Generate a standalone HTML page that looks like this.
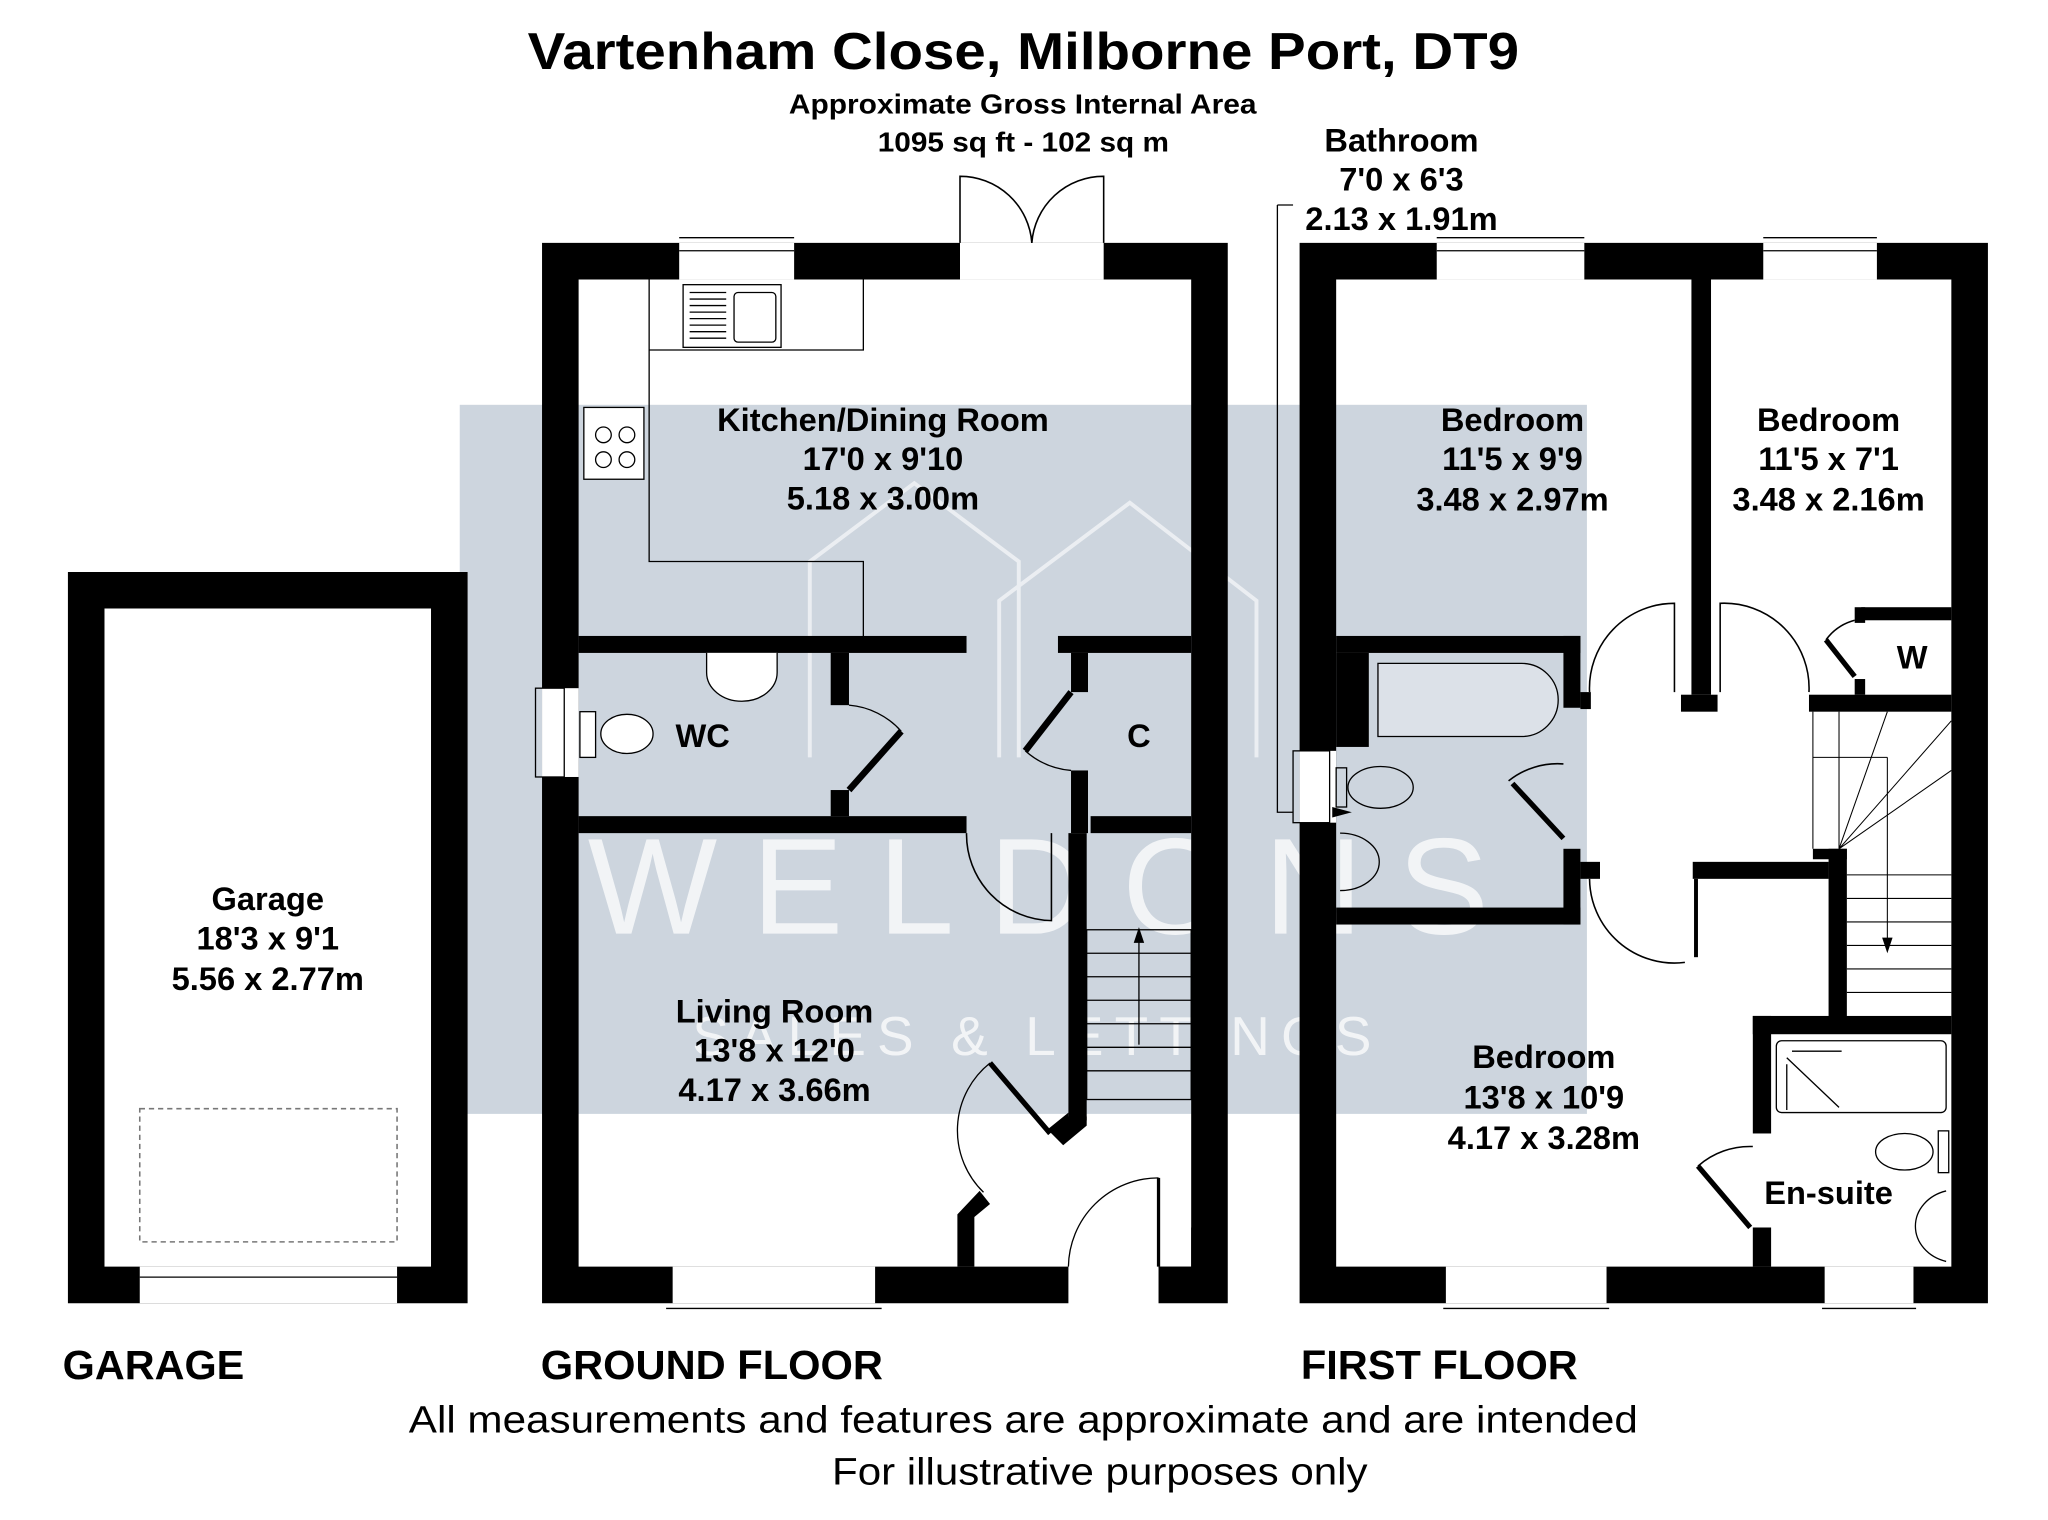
<!DOCTYPE html>
<html><head><meta charset="utf-8"><style>
html,body{margin:0;padding:0;background:#fff}
svg{display:block}
text{font-family:"Liberation Sans",Arial,sans-serif;font-weight:bold;fill:#000}
</style></head><body>
<svg width="2048" height="1520" viewBox="0 0 1568 1164" preserveAspectRatio="none" xmlns="http://www.w3.org/2000/svg">
<rect x="0" y="0" width="1568" height="1164" fill="#fff"/>
<!-- watermark -->
<rect x="352" y="310" width="863" height="543" fill="#cdd5de"/>
<text x="795" y="715" font-size="105" text-anchor="middle" textLength="690" lengthAdjust="spacing" style="fill:#fff;font-weight:normal" opacity="0.75">WELDONS</text>
<text x="790" y="808" font-size="42" text-anchor="middle" textLength="520" lengthAdjust="spacing" style="fill:#fff;font-weight:normal" opacity="0.75">SALES &amp; LETTINGS</text>
<path d="M620 580 V430 L700 370 L780 430 V580 M765 580 V460 L865 385 L962 460 V580" fill="none" stroke="#fff" stroke-width="3" opacity="0.6"/>

<!-- GARAGE -->
<path fill="#000" fill-rule="evenodd" d="M52 438 H358 V998 H52Z M80 466 V970 H330 V466Z"/>
<rect x="107" y="970" width="197" height="28" fill="#fff"/>
<line x1="107" y1="978" x2="304" y2="978" stroke="#000" stroke-width="1"/>
<rect x="107" y="849" width="197" height="102" fill="none" stroke="#777" stroke-width="1.2" stroke-dasharray="4,3"/>

<!-- GROUND FLOOR outer -->
<path fill="#000" fill-rule="evenodd" d="M415 186 H940 V998 H415Z M443 214 V970 H912 V214Z"/>
<rect x="520" y="186" width="88" height="28" fill="#fff"/>
<line x1="520" y1="182" x2="608" y2="182" stroke="#000"/><line x1="520" y1="192" x2="608" y2="192" stroke="#000"/>
<rect x="735" y="186" width="110" height="28" fill="#fff"/>
<path d="M735 186 V135 A55 55 0 0 1 790 186 M845 186 V135 A55 55 0 0 0 790 186" fill="none" stroke="#000" stroke-width="1.2"/>
<rect x="415" y="527" width="28" height="68" fill="#fff"/>
<rect x="410" y="527" width="22" height="68" fill="none" stroke="#000" stroke-width="1"/>
<rect x="515" y="970" width="155" height="28" fill="#fff"/>
<line x1="510" y1="1002" x2="675" y2="1002" stroke="#000"/>
<!-- entrance -->
<rect x="818" y="968" width="69" height="32" fill="#fff"/>
<rect x="912" y="940" width="2" height="30" fill="#000"/>
<rect x="887" y="970" width="26" height="1" fill="#000"/>
<line x1="887" y1="902" x2="887" y2="970" stroke="#000" stroke-width="2.5"/>
<path d="M818 970 A69 69 0 0 1 887 902" fill="none" stroke="#000" stroke-width="1"/>
<path fill="#000" d="M733 930 L750 912 L758 922 L746 932 V970 H733Z"/>
<path d="M753 913 A66 66 0 0 1 758 814" fill="none" stroke="#000" stroke-width="1"/>
<line x1="758" y1="814" x2="804" y2="868" stroke="#000" stroke-width="4"/>
<!-- internal walls -->
<rect x="443" y="487" width="297" height="13" fill="#000"/>
<rect x="810" y="487" width="102" height="13" fill="#000"/>
<rect x="443" y="625" width="297" height="13" fill="#000"/>
<rect x="835" y="625" width="77" height="13" fill="#000"/>
<rect x="636" y="500" width="14" height="40" fill="#000"/>
<rect x="636" y="605" width="14" height="20" fill="#000"/>
<rect x="820" y="500" width="13" height="30" fill="#000"/>
<rect x="820" y="590" width="13" height="48" fill="#000"/>
<rect x="818" y="638" width="14" height="220" fill="#000"/>
<path d="M818 855 L832 855 L832 862 L814 877 L802 865 L818 852Z" fill="#000"/>
<line x1="650" y1="605" x2="690" y2="560" stroke="#000" stroke-width="5"/>
<path d="M650 540 A60 60 0 0 1 690 560" fill="none" stroke="#000"/>
<line x1="820" y1="530" x2="785" y2="575" stroke="#000" stroke-width="5"/>
<path d="M785 575 A60 60 0 0 0 820 590" fill="none" stroke="#000"/>
<path d="M740 638 A66 66 0 0 0 805 705 V638" fill="none" stroke="#000" stroke-width="1.2"/>
<!-- stairs GF -->
<g stroke="#000" stroke-width="1" fill="none">
<rect x="832" y="712" width="80" height="130"/>
<path d="M832 730H912M832 748H912M832 766H912M832 784H912M832 802H912M832 820H912"/>
<line x1="872" y1="800" x2="872" y2="714"/>
</g>
<path d="M868 722 L872 710 L876 722Z" fill="#000"/>
<!-- kitchen fittings -->
<g stroke="#000" stroke-width="1" fill="#fff">
<path d="M497 214 V430 H661 V487" fill="none"/>
<path d="M497 268 H661 V214" fill="none"/>
<rect x="523" y="218" width="75" height="48"/>
<rect x="447" y="312" width="46" height="55"/>
<circle cx="462" cy="333" r="6"/><circle cx="480" cy="333" r="6"/><circle cx="462" cy="352" r="6"/><circle cx="480" cy="352" r="6"/>
<rect x="562" y="224" width="32" height="38" rx="3"/>
<path d="M528 224h28M528 229h28M528 234h28M528 239h28M528 244h28M528 249h28M528 254h28M528 259h28" fill="none"/>
<rect x="444" y="545" width="12" height="35"/>
<ellipse cx="480" cy="562" rx="20" ry="15"/>
<path d="M541 500 V515 A27 22 0 0 0 595 515 V500" />
</g>
<!-- GF labels -->
<g font-size="25" text-anchor="middle">
<text x="676" y="330">Kitchen/Dining Room</text>
<text x="676" y="360">17'0 x 9'10</text>
<text x="676" y="390">5.18 x 3.00m</text>
<text x="538" y="572">WC</text>
<text x="872" y="572">C</text>
<text x="593" y="783">Living Room</text>
<text x="593" y="813">13'8 x 12'0</text>
<text x="593" y="843">4.17 x 3.66m</text>
<text x="205" y="697">Garage</text>
<text x="205" y="727">18'3 x 9'1</text>
<text x="205" y="758">5.56 x 2.77m</text>
</g>

<!-- FIRST FLOOR outer -->
<path fill="#000" fill-rule="evenodd" d="M995 186 H1522 V998 H995Z M1023 214 V970 H1494 V214Z"/>
<rect x="1100" y="186" width="113" height="28" fill="#fff"/>
<line x1="1100" y1="182" x2="1213" y2="182" stroke="#000"/><line x1="1100" y1="192" x2="1213" y2="192" stroke="#000"/>
<rect x="1350" y="186" width="87" height="28" fill="#fff"/>
<line x1="1350" y1="182" x2="1437" y2="182" stroke="#000"/><line x1="1350" y1="192" x2="1437" y2="192" stroke="#000"/>
<rect x="1107" y="970" width="123" height="28" fill="#fff"/>
<line x1="1105" y1="1002" x2="1232" y2="1002" stroke="#000"/>
<rect x="1397" y="970" width="68" height="28" fill="#fff"/>
<line x1="1395" y1="1002" x2="1467" y2="1002" stroke="#000"/>
<rect x="995" y="575" width="28" height="55" fill="#fff"/>
<rect x="990" y="575" width="28" height="55" fill="none" stroke="#000" stroke-width="1"/>
<path d="M978 157 V622 H990 M978 157 H990" fill="none" stroke="#000" stroke-width="1"/>
<path d="M1020 618 L1035 622 L1020 626Z" fill="#000"/>
<!-- FF internal walls -->
<rect x="1295" y="214" width="15" height="318" fill="#000"/>
<rect x="1287" y="532" width="28" height="13" fill="#000"/>
<rect x="1023" y="487" width="187" height="13" fill="#000"/>
<rect x="1023" y="500" width="25" height="72" fill="#000"/>
<rect x="1197" y="487" width="13" height="55" fill="#000"/>
<rect x="1197" y="650" width="13" height="58" fill="#000"/>
<rect x="1023" y="695" width="187" height="13" fill="#000"/>
<rect x="1210" y="530" width="8" height="13" fill="#000"/>
<rect x="1210" y="660" width="15" height="13" fill="#000"/>
<rect x="1296" y="660" width="104" height="13" fill="#000"/>
<rect x="1297" y="673" width="3" height="60" fill="#000"/>
<rect x="1385" y="532" width="109" height="13" fill="#000"/>
<rect x="1425" y="465" width="69" height="10" fill="#000"/>
<rect x="1420" y="465" width="8" height="12" fill="#000"/>
<rect x="1420" y="520" width="8" height="12" fill="#000"/>
<rect x="1400" y="650" width="14" height="130" fill="#000"/>
<rect x="1388" y="650" width="26" height="8" fill="#000"/>
<rect x="1342" y="778" width="152" height="14" fill="#000"/>
<rect x="1342" y="778" width="14" height="90" fill="#000"/>
<rect x="1342" y="940" width="14" height="30" fill="#000"/>
<g fill="none" stroke="#000" stroke-width="1.2">
<path d="M1217 530 A65 65 0 0 1 1282 462 V530"/>
<path d="M1317 530 V462 A65 65 0 0 1 1385 530"/>
<path d="M1217 673 A65 65 0 0 0 1290 737"/>
<path d="M1155 598 A60 60 0 0 1 1197 585"/>
<path d="M1398 490 A40 40 0 0 1 1420 475"/>
<path d="M1300 893 A60 60 0 0 1 1342 878"/>
</g>
<line x1="1158" y1="600" x2="1197" y2="642" stroke="#000" stroke-width="4"/>
<line x1="1398" y1="490" x2="1420" y2="518" stroke="#000" stroke-width="4"/>
<line x1="1300" y1="893" x2="1340" y2="940" stroke="#000" stroke-width="4"/>
<!-- stairs FF -->
<g stroke="#000" stroke-width="0.8" fill="none">
<path d="M1388 545 V650 M1408 545 V650 M1388 580 H1445 M1414 670 H1494 M1414 688 H1494 M1414 706 H1494 M1414 724 H1494 M1414 742 H1494 M1414 760 H1494"/>
<path d="M1408 650 L1445 545 M1408 650 L1494 552 M1408 650 L1494 590 M1445 580 V728"/>
</g>
<path d="M1441 718 L1445 730 L1449 718Z" fill="#000"/>
<!-- bathroom fittings -->
<g stroke="#000" stroke-width="1" fill="none">
<path d="M1055 508 H1165 A28 28 0 0 1 1165 564 H1055Z" fill="#fff" fill-opacity="0.3"/>
<ellipse cx="1057" cy="603" rx="25" ry="16"/>
<rect x="1023" y="588" width="8" height="30"/>
<path d="M1026 638 A30 22 0 0 1 1026 682"/>
<rect x="1360" y="797" width="130" height="55" rx="4"/>
<path d="M1368 810 L1408 848 M1368 815 V850 M1372 805 H1410"/>
<ellipse cx="1458" cy="882" rx="22" ry="14"/>
<rect x="1484" y="866" width="8" height="32"/>
<path d="M1490 912 A32 28 0 0 0 1490 966" />
</g>
<!-- FF labels -->
<g font-size="25" text-anchor="middle">
<text x="1158" y="330">Bedroom</text>
<text x="1158" y="360">11'5 x 9'9</text>
<text x="1158" y="391">3.48 x 2.97m</text>
<text x="1400" y="330">Bedroom</text>
<text x="1400" y="360">11'5 x 7'1</text>
<text x="1400" y="391">3.48 x 2.16m</text>
<text x="1464" y="512">W</text>
<text x="1073" y="116">Bathroom</text>
<text x="1073" y="146">7'0 x 6'3</text>
<text x="1073" y="176">2.13 x 1.91m</text>
<text x="1182" y="818">Bedroom</text>
<text x="1182" y="849">13'8 x 10'9</text>
<text x="1182" y="880">4.17 x 3.28m</text>
<text x="1400" y="922">En-suite</text>
</g>

<!-- headings -->
<text x="404" y="53" font-size="40" textLength="759" lengthAdjust="spacingAndGlyphs">Vartenham Close, Milborne Port, DT9</text>
<text x="604" y="87" font-size="21" textLength="358" lengthAdjust="spacingAndGlyphs">Approximate Gross Internal Area</text>
<text x="672" y="116" font-size="21" textLength="223" lengthAdjust="spacingAndGlyphs">1095 sq ft - 102 sq m</text>
<text x="48" y="1056" font-size="31" textLength="139" lengthAdjust="spacingAndGlyphs">GARAGE</text>
<text x="414" y="1056" font-size="31" textLength="262" lengthAdjust="spacingAndGlyphs">GROUND FLOOR</text>
<text x="996" y="1056" font-size="31" textLength="212" lengthAdjust="spacingAndGlyphs">FIRST FLOOR</text>
<text x="313" y="1097" font-size="29" textLength="941" lengthAdjust="spacingAndGlyphs" style="font-weight:normal">All measurements and features are approximate and are intended</text>
<text x="637" y="1137" font-size="29" textLength="410" lengthAdjust="spacingAndGlyphs" style="font-weight:normal">For illustrative purposes only</text>
</svg>
</body></html>
